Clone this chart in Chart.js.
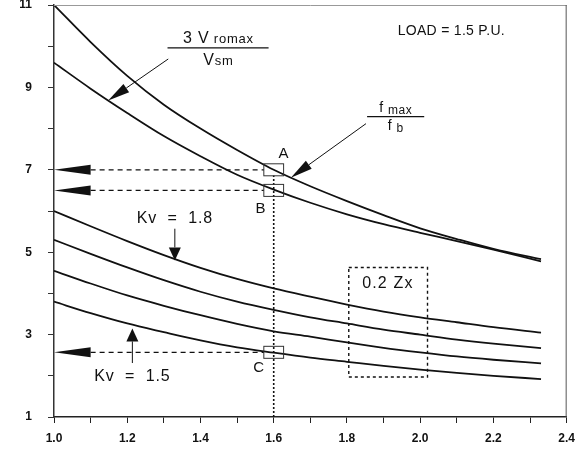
<!DOCTYPE html>
<html>
<head>
<meta charset="utf-8">
<script src="https://cdn.jsdelivr.net/npm/chart.js@4.4.0/dist/chart.umd.min.js"></script>
<style>
html, body { margin: 0; padding: 0; background: #fff; }
</style>
</head>
<body>
<canvas id="grafico" width="583" height="452"></canvas>
<script>
// valores
const xValores = [1.0, 1.1, 1.2, 1.3, 1.4, 1.5, 1.6, 1.7, 1.8, 1.9, 2.0, 2.1, 2.2, 2.33];
const fmaxFb = [11.0, 10.1, 9.28, 8.58, 8.0, 7.48, 7.0, 6.6, 6.24, 5.9, 5.58, 5.32, 5.08, 4.83];
const vromaxVsm = [9.6, 8.97, 8.38, 7.82, 7.33, 6.88, 6.52, 6.2, 5.92, 5.68, 5.47, 5.27, 5.06, 4.78];
const kv18 = [6.0, 5.63, 5.27, 4.93, 4.62, 4.35, 4.12, 3.92, 3.73, 3.56, 3.42, 3.3, 3.18, 3.05];
const kv17 = [5.3, 4.96, 4.63, 4.32, 4.04, 3.8, 3.6, 3.42, 3.27, 3.12, 3.0, 2.88, 2.78, 2.67];
const kv16 = [4.55, 4.24, 3.95, 3.7, 3.47, 3.26, 3.08, 2.95, 2.81, 2.68, 2.57, 2.47, 2.39, 2.3];
const kv15 = [3.8, 3.52, 3.27, 3.06, 2.86, 2.69, 2.56, 2.44, 2.34, 2.24, 2.15, 2.07, 2.0, 1.92];
const ticksY = [1, 3, 5, 7, 9, 11];

const FUENTE = '"Liberation Sans", Arial, sans-serif';

function serie(valores) {
    return {
        data: xValores.map((x, i) => ({ x: x, y: valores[i] })),
        borderColor: '#111',
        borderWidth: 1.8,
        pointRadius: 0,
        fill: false,
        cubicInterpolationMode: 'monotone'
    };
}

function flecha(ctx, x1, y1, x2, y2, largo, ancho) {
    const ang = Math.atan2(y2 - y1, x2 - x1);
    const bx = x2 - largo * Math.cos(ang), by = y2 - largo * Math.sin(ang);
    ctx.beginPath();
    ctx.moveTo(x1, y1);
    ctx.lineTo(bx, by);
    ctx.stroke();
    ctx.beginPath();
    ctx.moveTo(x2, y2);
    ctx.lineTo(bx + ancho * Math.sin(ang), by - ancho * Math.cos(ang));
    ctx.lineTo(bx - ancho * Math.sin(ang), by + ancho * Math.cos(ang));
    ctx.closePath();
    ctx.fill();
}

// texto compuesto: [texto, tamaño, desplazamiento vertical]
function textoPartes(ctx, partes, cx, cy, espacio) {
    ctx.letterSpacing = (espacio || 0) + 'px';
    let total = 0;
    partes.forEach(p => { ctx.font = p[1] + 'px ' + FUENTE; total += ctx.measureText(p[0]).width; });
    let x = cx - total / 2;
    ctx.textAlign = 'left';
    ctx.textBaseline = 'alphabetic';
    partes.forEach(p => {
        ctx.font = p[1] + 'px ' + FUENTE;
        ctx.fillText(p[0], x, cy + (p[2] || 0));
        x += ctx.measureText(p[0]).width;
    });
    ctx.letterSpacing = '0px';
}

function texto(ctx, t, x, y, tam, espacio) {
    ctx.letterSpacing = (espacio || 0) + 'px';
    ctx.font = tam + 'px ' + FUENTE;
    ctx.textAlign = 'center';
    ctx.textBaseline = 'middle';
    ctx.fillText(t, x, y);
    ctx.letterSpacing = '0px';
}

const anotaciones = {
    id: 'anotaciones',
    afterDatasetsDraw(chart) {
        const ctx = chart.ctx;
        const xs = chart.scales.x, ys = chart.scales.y;
        const px = v => xs.getPixelForValue(v);
        const py = v => ys.getPixelForValue(v);
        const area = chart.chartArea;
        ctx.save();

        // marco superior y derecho
        ctx.lineWidth = 1;
        ctx.strokeStyle = '#999';
        ctx.beginPath(); ctx.moveTo(area.left, area.top + 0.5); ctx.lineTo(area.right, area.top + 0.5); ctx.stroke();
        ctx.strokeStyle = '#555';
        ctx.beginPath(); ctx.moveTo(area.right - 0.5, area.top); ctx.lineTo(area.right - 0.5, area.bottom); ctx.stroke();

        ctx.fillStyle = '#111';
        ctx.strokeStyle = '#111';

        // lineas horizontales a trazos con flecha hacia el eje
        [7.0, 6.5, 2.57].forEach(yv => {
            ctx.setLineDash([5, 4]);
            ctx.lineWidth = 1.3;
            ctx.beginPath();
            ctx.moveTo(px(1.1), py(yv));
            ctx.lineTo(px(1.573), py(yv));
            ctx.stroke();
            ctx.setLineDash([]);
            ctx.beginPath();
            ctx.moveTo(px(1.0), py(yv));
            ctx.lineTo(px(1.1), py(yv) - 5);
            ctx.lineTo(px(1.1), py(yv) + 5);
            ctx.closePath();
            ctx.fill();
        });

        // linea vertical punteada en 1.6
        ctx.setLineDash([2, 2]);
        ctx.lineWidth = 1.6;
        ctx.beginPath();
        ctx.moveTo(px(1.6), py(1));
        ctx.lineTo(px(1.6), py(6.86));
        ctx.stroke();
        ctx.setLineDash([]);

        // cuadros A, B, C
        ctx.lineWidth = 1;
        ctx.strokeStyle = '#333';
        [7.0, 6.5, 2.57].forEach(yv => {
            ctx.strokeRect(px(1.573), py(yv) - 6, px(1.627) - px(1.573), 12);
        });
        ctx.strokeStyle = '#111';

        texto(ctx, 'A', px(1.627), py(7.39), 15);
        texto(ctx, 'B', px(1.564), py(6.06), 15);
        texto(ctx, 'C', px(1.559), py(2.19), 15);

        // Kv
        texto(ctx, 'Kv  =  1.8', px(1.33), py(5.82), 16, 0.8);
        texto(ctx, 'Kv  =  1.5', px(1.214), py(1.97), 16, 0.8);
        ctx.lineWidth = 1;
        flecha(ctx, px(1.33), py(5.57), px(1.33), py(4.8), 13, 6);
        flecha(ctx, px(1.214), py(2.31), px(1.214), py(3.15), 13, 6);

        // LOAD
        texto(ctx, 'LOAD = 1.5 P.U.', px(2.085), py(10.37), 14, 0.3);

        // 3 Vromax / Vsm
        textoPartes(ctx, [['3 V', 16], [' romax', 13]], px(1.449), py(9.96) - 5, 0.8);
        textoPartes(ctx, [['V', 16], ['sm', 13]], px(1.449), py(9.96) + 17, 0.8);
        ctx.lineWidth = 1.2;
        ctx.beginPath(); ctx.moveTo(px(1.31), py(9.96)); ctx.lineTo(px(1.586), py(9.96)); ctx.stroke();
        ctx.lineWidth = 1;
        flecha(ctx, px(1.312), py(9.69), px(1.148), py(8.68), 22, 5);

        // fmax / fb
        textoPartes(ctx, [['f ', 14], ['max', 12, 2]], px(1.933), py(8.29) - 5, 0.5);
        textoPartes(ctx, [['f ', 14], ['b', 12, 2]], px(1.933), py(8.29) + 13, 0.5);
        ctx.lineWidth = 1.2;
        ctx.beginPath(); ctx.moveTo(px(1.855), py(8.29)); ctx.lineTo(px(2.011), py(8.29)); ctx.stroke();
        ctx.lineWidth = 1;
        flecha(ctx, px(1.852), py(8.12), px(1.647), py(6.81), 22, 5);

        // recuadro 0.2 Zx
        ctx.setLineDash([3, 3]);
        ctx.lineWidth = 1.4;
        ctx.strokeRect(px(1.805), py(4.63), px(2.02) - px(1.805), py(1.97) - py(4.63));
        ctx.setLineDash([]);
        texto(ctx, '0.2 Zx', px(1.912), py(4.24), 16, 1.2);

        ctx.restore();
    }
};

new Chart(document.getElementById('grafico'), {
    type: 'line',
    data: {
        datasets: [serie(fmaxFb), serie(vromaxVsm), serie(kv18), serie(kv17), serie(kv16), serie(kv15)]
    },
    options: {
        responsive: false,
        animation: false,
        layout: { padding: { left: 0, right: 16, top: 5, bottom: 0 } },
        plugins: { legend: { display: false }, tooltip: { enabled: false } },
        scales: {
            x: {
                type: 'linear',
                min: 1.0,
                max: 2.4,
                afterFit: s => { s.height = 35; },
                ticks: {
                    stepSize: 0.1,
                    autoSkip: false,
                    maxRotation: 0,
                    padding: 8,
                    color: '#111',
                    font: { family: FUENTE, size: 12, weight: 'bold' },
                    callback: v => (Math.round(v * 10) % 2 === 0 ? v.toFixed(1) : '')
                },
                grid: { drawOnChartArea: false, drawTicks: true, tickLength: 6, color: '#222' },
                border: { color: '#222', width: 1.5 }
            },
            y: {
                type: 'linear',
                min: 1,
                max: 11,
                afterFit: s => { s.width = 54; s.paddingTop = 0; s.paddingBottom = 0; },
                ticks: {
                    stepSize: 1,
                    autoSkip: false,
                    padding: 16,
                    color: '#111',
                    font: { family: FUENTE, size: 12, weight: 'bold' },
                    callback: v => (ticksY.includes(v) ? String(v) : '')
                },
                grid: { drawOnChartArea: false, drawTicks: true, tickLength: 6, color: '#333' },
                border: { color: '#333', width: 1.5 }
            }
        }
    },
    plugins: [anotaciones]
});
</script>
</body>
</html>
